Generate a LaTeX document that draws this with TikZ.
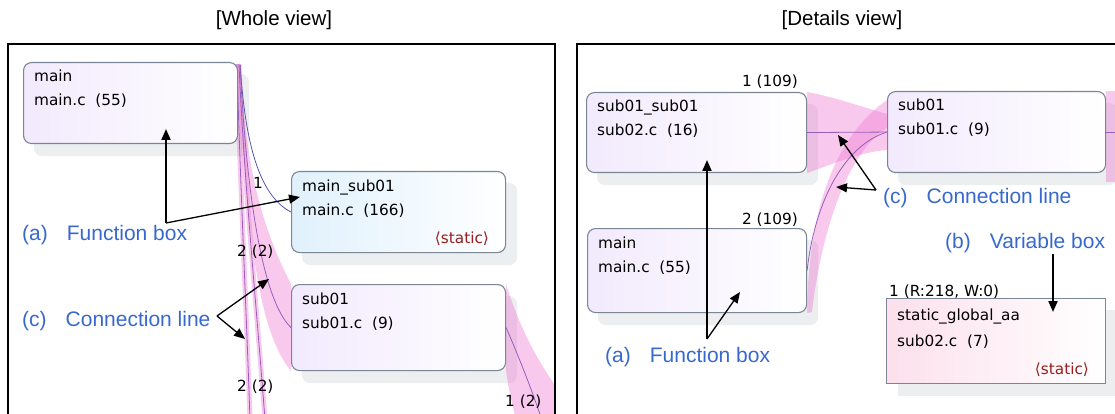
\documentclass[tikz,border=0pt]{standalone}
\usepackage{fontspec}
\setmainfont{Liberation Sans}
\newfontfamily\boxfont{DejaVu Sans}
\usetikzlibrary{arrows.meta, backgrounds}
\definecolor{boxEdge}{RGB}{122,134,150}
\definecolor{lavFill}{RGB}{242,234,253}
\definecolor{iceFill}{RGB}{224,241,252}
\definecolor{pinkFill}{RGB}{252,224,236}
\definecolor{dropGray}{RGB}{236,238,240}
\definecolor{bandPink}{RGB}{240,120,210}
\definecolor{linkPurple}{RGB}{150,95,185}
\definecolor{linkBlue}{RGB}{85,85,170}
\definecolor{noteBlue}{RGB}{55,105,205}
\definecolor{staticRed}{RGB}{150,30,30}
\newcommand{\notegap}{\hspace{19pt}}
\tikzset{
  funcbox/.style={draw=boxEdge, line width=1.1pt, rounded corners=8pt,
    left color=#1, right color=white, anchor=north west, inner sep=0pt},
  varbox/.style={draw=boxEdge, line width=1.1pt, left color=pinkFill,
    right color=white, anchor=north west, inner sep=0pt},
  btxt/.style={font=\boxfont\fontsize{15.3}{18}\selectfont, anchor=base west, inner sep=0pt},
  stat/.style={btxt, anchor=base east, text=staticRed},
  note/.style={font=\fontsize{21}{25}\selectfont, text=noteBlue, anchor=base west, inner sep=0pt},
  title/.style={font=\fontsize{20.5}{24}\selectfont, anchor=base, inner sep=0pt},
  frame/.style={line width=2pt},
  band/.style={fill=bandPink, fill opacity=0.4},
  stripe/.style={draw=bandPink, draw opacity=0.4, line width=5pt},
  link/.style={draw=linkPurple, line width=0.8pt},
  pointer/.style={-{Triangle[length=11pt,width=9pt]}, line width=1.3pt},
}
\begin{document}
\begin{tikzpicture}[x=1pt, y=-1pt]
  \useasboundingbox (0,0) rectangle (1115,414);

  % Titles
  \node[title] (tWhole) at (274,26) {[Whole view]};
  \node[title] (tDetail) at (842,26) {[Details view]};

  % Whole view boxes
  \node[funcbox=lavFill, minimum width=214pt, minimum height=81pt] (mainW) at (23,62) {};
  \node[funcbox=iceFill, minimum width=214pt, minimum height=81pt] (msubW) at (291,171) {};
  \node[funcbox=lavFill, minimum width=214pt, minimum height=86pt] (subW) at (291,284) {};

  % Details view boxes
  \node[funcbox=lavFill, minimum width=220pt, minimum height=80pt] (ssD) at (586,92) {};
  \node[funcbox=lavFill, minimum width=219pt, minimum height=84pt] (mainD) at (587,228) {};
  \node[funcbox=lavFill, minimum width=218pt, minimum height=81pt] (subD) at (887,91) {};
  \node[varbox, minimum width=219pt, minimum height=85pt] (varD) at (886,298) {};

  % Box texts
  \foreach \b/\one/\two in {mainW/main/{main.c\ \ (55)}, msubW/main\_sub01/{main.c\ \ (166)},
      subW/sub01/{sub01.c\ \ (9)}, ssD/sub01\_sub01/{sub02.c\ \ (16)},
      mainD/main/{main.c\ \ (55)}, subD/sub01/{sub01.c\ \ (9)}} {
    \node[btxt] (\b-1) at ([shift={(11,20)}]\b.north west) {\one};
    \node[btxt] (\b-2) at ([shift={(11,44)}]\b.north west) {\two};
  }
  \node[stat] (msubW-3) at ([shift={(-17,72)}]msubW.north east) {⟨static⟩};
  \node[btxt] (varD-1) at ([shift={(11,22)}]varD.north west) {static\_global\_aa};
  \node[btxt] (varD-2) at ([shift={(11,48)}]varD.north west) {sub02.c\ \ (7)};
  \node[stat] (varD-3) at ([shift={(-17,76)}]varD.north east) {⟨static⟩};

  \coordinate (mainWout) at ([shift={(2,3)}]mainW.north east);

  \begin{scope}[on background layer]
    % shadows
    \foreach \b in {mainW, msubW, subW, ssD, mainD, subD}
      \fill[dropGray, rounded corners=8pt] ([shift={(11,12)}]\b.north west) rectangle ([shift={(11,12)}]\b.south east);
    \fill[dropGray] ([shift={(12,12)}]varD.north west) rectangle ([shift={(12,12)}]varD.south east);

    % Whole view connections
    \begin{scope}
      \clip (9,45) rectangle (554,414);
      \fill[band] (240,66) .. controls (246,160) and (258,220) .. (subW.north west)
        -- (subW.south west) .. controls (262,335) and (248,260) .. (238,66) -- cycle;
      \draw[stripe] (237,64) .. controls (240,180) and (246,300) .. (250,420);
      \draw[stripe] (239,64) .. controls (244,180) and (256,300) .. (265,420);
      \fill[band] (subW.north east) .. controls (520,330) and (540,365) .. (560,392)
        -- (560,420) -- (516,420) .. controls (510,395) and (507,380) .. (subW.south east) -- cycle;
      \draw[link, draw=linkBlue] (mainWout) .. controls (245,140) and (258,195) .. (msubW.west);
      \draw[link] (mainWout) .. controls (246,190) and (262,300) .. (subW.west);
      \draw[link] (237,64) .. controls (240,180) and (246,300) .. (250,420);
      \draw[link] (239,64) .. controls (244,180) and (256,300) .. (265,420);
      \draw[link] (subW.east) .. controls (518,355) and (530,385) .. (542,420);
    \end{scope}

    % Details view connections
    \begin{scope}
      \clip (578,45) rectangle (1115,414);
      \fill[band] (ssD.north east) .. controls (835,97) and (865,108) .. (887,114)
        -- (887,150) .. controls (860,152) and (830,165) .. (ssD.south east) -- cycle;
      \fill[band] (mainD.south east) .. controls (808,220) and (830,140) .. (887,100)
        -- (887,128) .. controls (850,150) and (822,225) .. (812,312) -- cycle;
      \fill[band] (subD.north east) rectangle (1120,182);
      \draw[link] (ssD.east) -- (subD.west);
      \draw[link] (mainD.east) .. controls (815,200) and (845,145) .. (subD.west);
      \draw[link] (subD.east) -- ++(15,0);
    \end{scope}
  \end{scope}

  % Counts
  \node[btxt] (cnt1W) at (253,188) {1};
  \node[btxt] (cnt2W) at (237,256) {2 (2)};
  \node[btxt] (cnt3W) at (237,391) {2 (2)};
  \node[btxt] (cnt4W) at (505,406) {1 (2)};
  \node[btxt, anchor=base east] (cnt1D) at (798,87) {1 (109)};
  \node[btxt, anchor=base east] (cnt2D) at (798,224) {2 (109)};
  \node[btxt] (cnt3D) at (889,296) {1 (R:218, W:0)};

  % Frames
  \draw[frame] (8,420) -- (8,44) -- (555,44) -- (555,420);
  \draw[frame] (577,420) -- (577,44) -- (1120,44);

  % Notes
  \node[note] (fnW) at (22,240) {(a)\notegap Function box};
  \node[note] (clW) at (22,326) {(c)\notegap Connection line};
  \node[note] (clD) at (883,203) {(c)\notegap Connection line};
  \node[note] (vbD) at (945,248) {(b)\notegap Variable box};
  \node[note] (fnD) at (605,362) {(a)\notegap Function box};

  % Pointers
  \coordinate (fnWc) at (166,223);
  \coordinate (fnWt1) at (166,129);
  \coordinate (fnWt2) at (300,197);
  \coordinate (clWc) at (217,316);
  \coordinate (clWt1) at (269,279);
  \coordinate (clWt2) at (245,339);
  \coordinate (clDc) at (876,190);
  \coordinate (clDt1) at (838,135);
  \coordinate (clDt2) at (836,187);
  \coordinate (vbDc) at (1053,254);
  \coordinate (vbDt) at (1053,312);
  \coordinate (fnDc) at (707,339);
  \coordinate (fnDt1) at (707,160);
  \coordinate (fnDt2) at (740,292);
  \draw[pointer, line width=2pt] (fnWc) -- (fnWt1);
  \draw[pointer] (fnWc) -- (fnWt2);
  \draw[pointer] (clWc) -- (clWt1);
  \draw[pointer] (clWc) -- (clWt2);
  \draw[pointer] (clDc) -- (clDt1);
  \draw[pointer] (clDc) -- (clDt2);
  \draw[pointer, line width=2pt] (vbDc) -- (vbDt);
  \draw[pointer, line width=2pt] (fnDc) -- (fnDt1);
  \draw[pointer] (fnDc) -- (fnDt2);
\end{tikzpicture}
\end{document}
